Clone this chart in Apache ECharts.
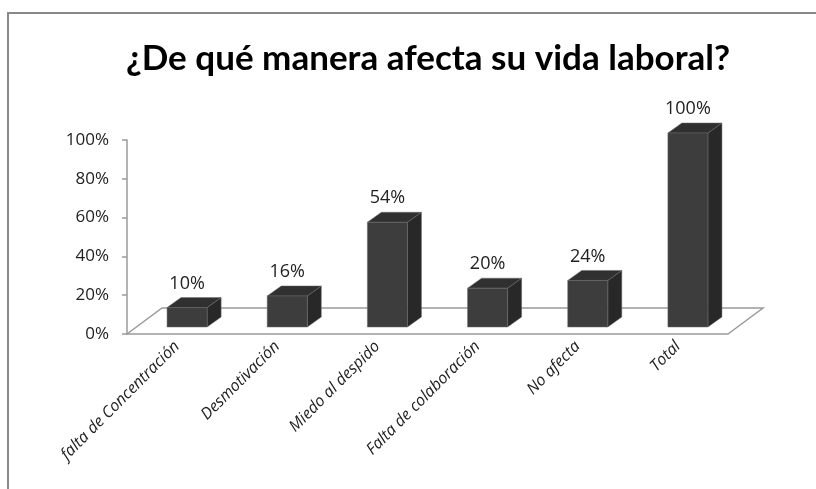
<!DOCTYPE html>
<html>
<head>
<meta charset="utf-8">
<script src="https://cdn.jsdelivr.net/npm/echarts@6/dist/echarts.min.js"></script>
<style>
  html, body { margin: 0; padding: 0; background: #fff; }
  #chart { width: 816px; height: 489px; }
</style>
</head>
<body>
<div id="chart"></div>
<script>
// datos del grafico
const categorias = ['falta de Concentración', 'Desmotivación', 'Miedo al despido', 'Falta de colaboración', 'No afecta', 'Total'];
const valores = [10, 16, 54, 20, 24, 100];
const ticksY = [0, 20, 40, 60, 80, 100];

const myChart = echarts.init(document.getElementById('chart'));

// desplazamientos del efecto 3D
const FRONT_DX = 10, FRONT_DY = -7;
const DEPTH_DX = 14, DEPTH_DY = -10;
const FLOOR_DX = 35, FLOOR_DY = -26;

function renderBar(params, api) {
  const i = api.value(0);
  const v = api.value(1);
  const base = api.coord([i, 0]);
  const top = api.coord([i, v]);
  const bw = api.size([1, 0])[0] * 0.4;
  const x0 = base[0] + FRONT_DX - bw / 2;
  const x1 = x0 + bw;
  const yb = base[1] + FRONT_DY;
  const yt = top[1] + FRONT_DY;
  return {
    type: 'group',
    children: [
      {
        type: 'polygon',
        shape: { points: [[x1, yt], [x1 + DEPTH_DX, yt + DEPTH_DY], [x1 + DEPTH_DX, yb + DEPTH_DY], [x1, yb]] },
        style: { fill: '#282828', stroke: '#6a6a6a', lineWidth: 0.5 }
      },
      {
        type: 'polygon',
        shape: { points: [[x0, yt], [x1, yt], [x1 + DEPTH_DX, yt + DEPTH_DY], [x0 + DEPTH_DX, yt + DEPTH_DY]] },
        style: { fill: '#303030', stroke: '#6a6a6a', lineWidth: 0.5 }
      },
      {
        type: 'rect',
        shape: { x: x0, y: yt, width: bw, height: yb - yt },
        style: { fill: '#3d3d3d', stroke: '#6a6a6a', lineWidth: 0.5 }
      },
      {
        type: 'text',
        style: {
          x: x0 + bw / 2, y: yt - 24,
          text: v + '%',
          align: 'center', verticalAlign: 'middle',
          font: '18px "Open Sans"', fill: '#222'
        }
      }
    ]
  };
}

function renderFloor(params, api) {
  const cs = params.coordSys;
  const yb = cs.y + cs.height;
  return {
    type: 'polyline',
    shape: {
      points: [
        [cs.x, yb], [cs.x + FLOOR_DX, yb + FLOOR_DY],
        [cs.x + cs.width + FLOOR_DX, yb + FLOOR_DY], [cs.x + cs.width, yb]
      ]
    },
    style: { fill: null, stroke: '#9a9a9a', lineWidth: 1.5 }
  };
}

const option = {
  animation: false,
  backgroundColor: '#fff',
  title: {
    text: '¿De qué manera afecta su vida laboral?',
    left: 423, top: 36, textAlign: 'center',
    textStyle: { fontFamily: 'Lato', fontWeight: 'bold', fontSize: 35, color: '#000' }
  },
  graphic: [{
    type: 'rect', silent: true,
    shape: { x: 8, y: 13, width: 900, height: 600 },
    style: { fill: null, stroke: '#888', lineWidth: 2 }
  }],
  grid: { left: 127, right: 88, top: 140, bottom: 155 },
  xAxis: {
    type: 'category',
    data: categorias,
    axisLine: { lineStyle: { color: '#9a9a9a', width: 1.5 } },
    axisTick: { length: 5, lineStyle: { color: '#9a9a9a', width: 1.5 } },
    axisLabel: {
      rotate: 45, interval: 0, margin: 10,
      fontFamily: 'Open Sans', fontStyle: 'italic', fontSize: 16, color: '#222'
    }
  },
  yAxis: {
    type: 'value',
    min: ticksY[0], max: ticksY[ticksY.length - 1], interval: 20,
    splitLine: { show: false },
    axisLine: { show: true, lineStyle: { color: '#9a9a9a', width: 1.5 } },
    axisTick: { show: true, length: 5, lineStyle: { color: '#9a9a9a', width: 1.5 } },
    axisLabel: {
      formatter: '{value}%', margin: 18,
      fontFamily: 'Open Sans', fontSize: 17, color: '#222'
    }
  },
  series: [
    { type: 'custom', renderItem: renderFloor, data: [[0, 0]], silent: true, z: 1 },
    { type: 'custom', renderItem: renderBar, data: valores.map((v, i) => [i, v]), z: 2 }
  ]
};

myChart.setOption(option);
</script>
</body>
</html>
